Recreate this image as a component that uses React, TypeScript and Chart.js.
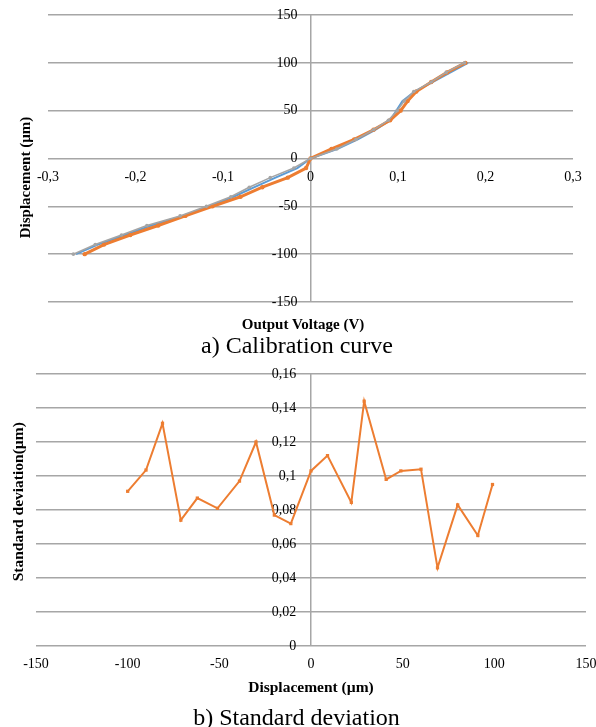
import React, { useEffect, useRef } from 'react';
import { Chart, registerables } from 'chart.js';

Chart.register(...registerables);

// ---------- data: a) calibration curve ----------
const displacementLevels = [-100, -90, -80, -70, -60, -50, -40, -30, -20, -10, 0, 10, 20, 30, 40, 50, 60, 70, 80, 90, 100];
const voltageBlue = [-0.268, -0.243, -0.212, -0.182, -0.146, -0.116, -0.088, -0.064, -0.040, -0.015, 0, 0.031, 0.054, 0.074, 0.091, 0.098, 0.105, 0.119, 0.140, 0.160, 0.180];
const voltageOrange = [-0.258, -0.236, -0.206, -0.174, -0.143, -0.112, -0.080, -0.055, -0.026, -0.005, 0, 0.024, 0.050, 0.072, 0.091, 0.103, 0.111, 0.121, 0.138, 0.156, 0.177];
const voltageGray = [-0.271, -0.246, -0.216, -0.187, -0.149, -0.119, -0.091, -0.070, -0.046, -0.019, 0, 0.030, 0.052, 0.072, 0.089, 0.099, 0.107, 0.118, 0.138, 0.155, 0.176];
const voltageTicks = [-0.3, -0.2, -0.1, 0, 0.1, 0.2, 0.3];
const displacementTicks = [-150, -100, -50, 0, 50, 100, 150];

// ---------- data: b) standard deviation ----------
const sdDisplacement = [-100, -90, -81, -71, -62, -51, -39, -30, -20, -11, 0, 9, 22, 29, 41, 49, 60, 69, 80, 91, 99];
const sdValues = [0.091, 0.1035, 0.131, 0.074, 0.087, 0.081, 0.097, 0.120, 0.077, 0.072, 0.103, 0.112, 0.0845, 0.144, 0.098, 0.103, 0.104, 0.046, 0.083, 0.065, 0.095];
const sdXTicks = [-150, -100, -50, 0, 50, 100, 150];
const sdYTicks = [0, 0.02, 0.04, 0.06, 0.08, 0.1, 0.12, 0.14, 0.16];

const FONT = 'Liberation Serif';
const GRID = '#a6a6a6';

const fmt = (v: number | string) => {
  const n = Math.round(Number(v) * 10000) / 10000;
  return String(n === 0 ? 0 : n).replace('.', ',');
};

const zeroFit = (scale: any) => {
  scale.paddingLeft = 0;
  scale.paddingRight = 0;
  scale.paddingTop = 0;
  scale.paddingBottom = 0;
  if (scale.isHorizontal()) scale.height = 0;
  else scale.width = 0;
};

const setTicks = (arr: number[]) => (scale: any) => {
  scale.ticks = arr.map((v) => ({ value: v }));
};

// vertical axis line at x = 0 drawn as the only visible vertical grid line
const zeroLineColor = (ctx: any) => (ctx.tick && ctx.tick.value === 0 ? GRID : 'rgba(0,0,0,0)');

const pairs = (xs: number[], ys: number[]) => xs.map((x, i) => ({ x, y: ys[i] }));

export default function App() {
  const topRef = useRef<HTMLCanvasElement>(null);
  const botRef = useRef<HTMLCanvasElement>(null);

  useEffect(() => {
    const tickFont = { family: FONT, size: 14 };
    const top = new Chart(topRef.current as HTMLCanvasElement, {
      type: 'line',
      data: {
        datasets: [
          {
            data: pairs(voltageGray, displacementLevels),
            borderColor: '#a5a5a5',
            backgroundColor: '#a5a5a5',
            borderWidth: 1.6,
            pointRadius: 1.8,
            pointBorderWidth: 0,
            pointStyle: 'circle',
          },
          {
            data: pairs(voltageOrange, displacementLevels),
            borderColor: '#ed7d31',
            backgroundColor: '#ed7d31',
            borderWidth: 3,
            pointRadius: 2.2,
            pointBorderWidth: 0,
          },
          {
            data: pairs(voltageBlue, displacementLevels),
            borderColor: '#5b9bd5',
            backgroundColor: '#5b9bd5',
            borderWidth: 2,
            pointRadius: 0,
          },
        ],
      },
      options: {
        responsive: false,
        animation: false,
        layout: { padding: { left: 48, right: 23, top: 15, bottom: 38 } },
        plugins: { legend: { display: false }, tooltip: { enabled: false } },
        elements: { line: { tension: 0 } },
        scales: {
          x: {
            type: 'linear',
            position: { y: 0 } as any,
            min: voltageTicks[0],
            max: voltageTicks[voltageTicks.length - 1],
            afterBuildTicks: setTicks(voltageTicks),
            afterFit: zeroFit,
            grid: { color: zeroLineColor, lineWidth: 1.5, drawTicks: false },
            border: { display: false },
            ticks: { font: tickFont, color: '#000', padding: 10, maxRotation: 0, autoSkip: false, callback: (v: any) => fmt(v) },
          },
          y: {
            type: 'linear',
            position: { x: -0.0149 } as any,
            min: displacementTicks[0],
            max: displacementTicks[displacementTicks.length - 1],
            afterBuildTicks: setTicks(displacementTicks),
            afterFit: zeroFit,
            grid: { color: GRID, lineWidth: 1.5, drawTicks: false },
            border: { display: false },
            ticks: { font: tickFont, color: '#000', padding: 0, autoSkip: false, callback: (v: any) => fmt(v) },
          },
        },
      } as any,
    });

    const bot = new Chart(botRef.current as HTMLCanvasElement, {
      type: 'line',
      data: {
        datasets: [
          {
            data: pairs(sdDisplacement, sdValues),
            borderColor: '#ed7d31',
            backgroundColor: '#ed7d31',
            borderWidth: 2,
            pointRadius: 2.3,
            pointBorderWidth: 0,
            pointStyle: 'rect',
          },
        ],
      },
      options: {
        responsive: false,
        animation: false,
        layout: { padding: { left: 36, right: 34, top: 14, bottom: 44 } },
        plugins: { legend: { display: false }, tooltip: { enabled: false } },
        elements: { line: { tension: 0 } },
        scales: {
          x: {
            type: 'linear',
            position: { y: 0 } as any,
            min: sdXTicks[0],
            max: sdXTicks[sdXTicks.length - 1],
            afterBuildTicks: setTicks(sdXTicks),
            afterFit: zeroFit,
            grid: { color: zeroLineColor, lineWidth: 1.5, drawTicks: false },
            border: { display: false },
            ticks: { font: tickFont, color: '#000', padding: 10, maxRotation: 0, autoSkip: false, callback: (v: any) => fmt(v) },
          },
          y: {
            type: 'linear',
            position: { x: -8 } as any,
            min: sdYTicks[0],
            max: sdYTicks[sdYTicks.length - 1],
            afterBuildTicks: setTicks(sdYTicks),
            afterFit: zeroFit,
            grid: { color: GRID, lineWidth: 1.5, drawTicks: false },
            border: { display: false },
            ticks: { font: tickFont, color: '#000', padding: 0, autoSkip: false, callback: (v: any) => fmt(v) },
          },
        },
      } as any,
    });

    return () => {
      top.destroy();
      bot.destroy();
    };
  }, []);

  const bold = { position: 'absolute' as const, fontWeight: 'bold' as const, textAlign: 'center' as const, whiteSpace: 'nowrap' as const };

  return (
    <div
      style={{
        position: 'fixed',
        left: 0,
        top: 0,
        width: 596,
        height: 727,
        overflow: 'hidden',
        background: '#fff',
        fontFamily: '"Liberation Serif", serif',
        color: '#000',
      }}
    >
      <canvas ref={topRef} width={596} height={340} style={{ position: 'absolute', left: 0, top: 0 }} />
      <canvas ref={botRef} width={620} height={330} style={{ position: 'absolute', left: 0, top: 360 }} />

      <div style={{ ...bold, left: -75, top: 169.5, width: 200, height: 15, fontSize: 15, lineHeight: '15px', transform: 'rotate(-90deg)' }}>
        Displacement (µm)
      </div>
      <div style={{ ...bold, left: 103, top: 316.7, width: 400, fontSize: 15, lineHeight: '15px' }}>Output Voltage (V)</div>
      <div style={{ position: 'absolute', left: 97, top: 333, width: 400, textAlign: 'center', fontSize: 24, lineHeight: '24px', whiteSpace: 'nowrap' }}>
        a) Calibration curve
      </div>

      <div style={{ ...bold, left: -82, top: 494.25, width: 200, height: 15.5, fontSize: 15.5, lineHeight: '15.5px', transform: 'rotate(-90deg)' }}>
        Standard deviation(µm)
      </div>
      <div style={{ ...bold, left: 111, top: 679, width: 400, fontSize: 15.5, lineHeight: '15.5px' }}>Displacement (µm)</div>
      <div style={{ position: 'absolute', left: 96.5, top: 705, width: 400, textAlign: 'center', fontSize: 24, lineHeight: '24px', whiteSpace: 'nowrap' }}>
        b) Standard deviation
      </div>
    </div>
  );
}
